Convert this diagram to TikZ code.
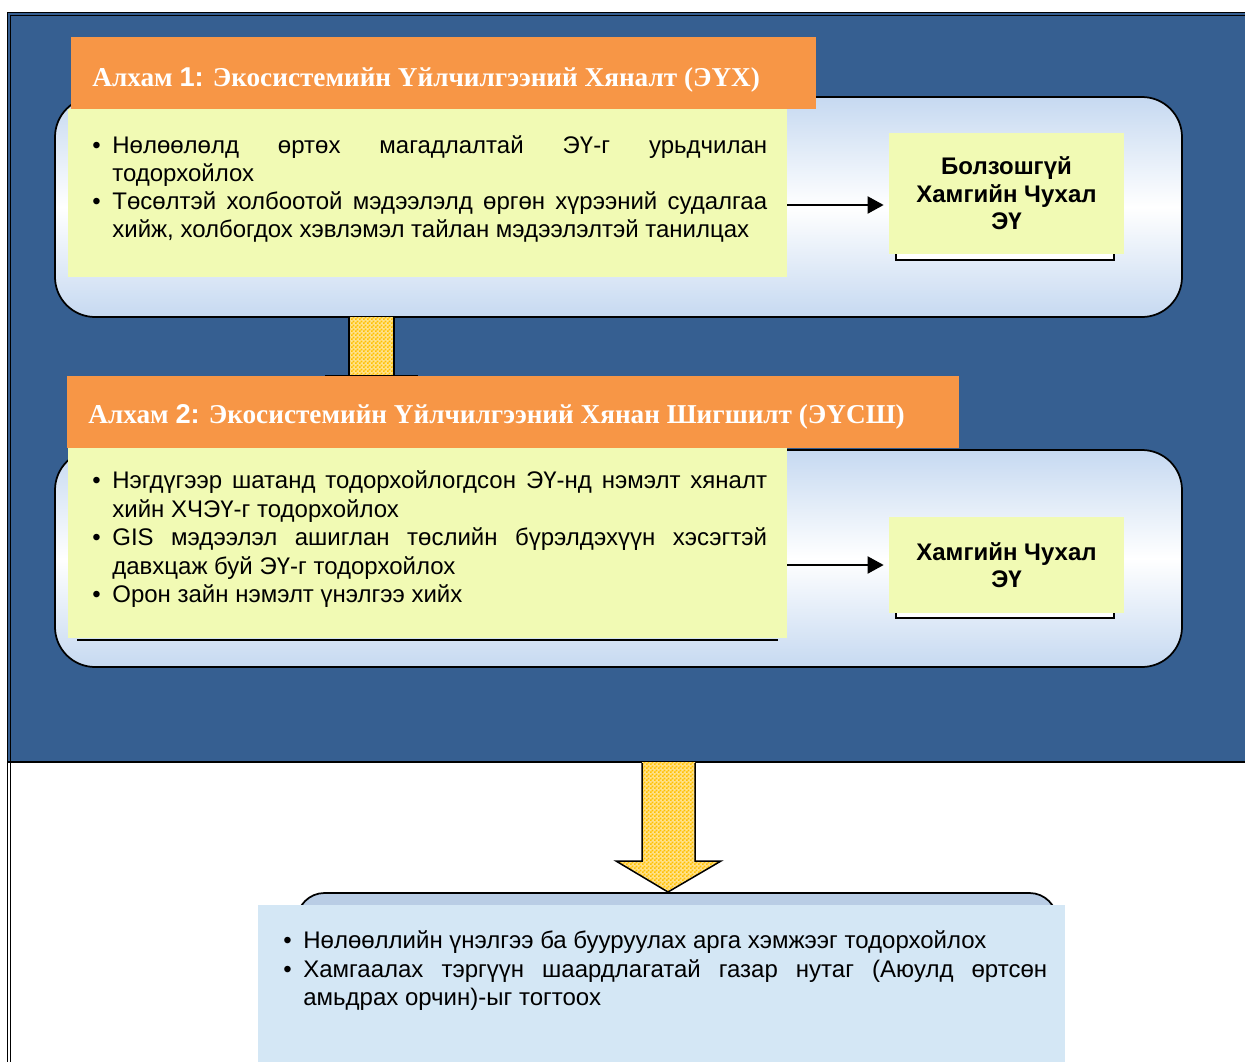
\documentclass[tikz,border=0pt]{standalone}
\usepackage{fontspec}
\setmainfont{Liberation Sans}
\newfontfamily\hdrf{Liberation Serif}
\usetikzlibrary{arrows.meta,patterns,fit}
\definecolor{panelblue}{RGB}{54,95,145}
\definecolor{hdrorange}{RGB}{247,150,70}
\definecolor{yel}{RGB}{241,250,180}
\definecolor{lb}{RGB}{198,217,241}
\definecolor{botbox}{RGB}{185,205,229}
\definecolor{botfill}{RGB}{212,231,245}
\definecolor{checkc}{RGB}{255,192,0}
\definecolor{checkbase}{RGB}{255,226,140}
\pgfdeclarepatternformonly{finecheck}{\pgfpointorigin}{\pgfpoint{2.3pt}{2.3pt}}{\pgfpoint{2.3pt}{2.3pt}}{%
  \pgfpathrectangle{\pgfpointorigin}{\pgfpoint{1.15pt}{1.15pt}}%
  \pgfpathrectangle{\pgfpoint{1.15pt}{1.15pt}}{\pgfpoint{1.15pt}{1.15pt}}%
  \pgfusepath{fill}}
\hyphenpenalty=10000
\exhyphenpenalty=10000
\tolerance=10000
\newcommand\bul[1]{\par\hangindent=0.4cm\hangafter=1\noindent\makebox[0.4cm][l]{•}#1\par}
\begin{document}
\begin{tikzpicture}[x=0.02cm,y=-0.02cm,
  rbox/.style={inner sep=0, draw=black, line width=0.035cm, rounded corners=0.8cm,
     top color=lb, bottom color=lb, middle color=white},
  hdrbox/.style={inner sep=0, fill=hdrorange},
  ybox/.style={inner sep=0, fill=yel},
  shadowbox/.style={draw=black, fill=white, line width=0.03cm},
  hdrtext/.style={anchor=base west, inner sep=0, text=white, font=\fontsize{15.5}{18}\selectfont},
  bodytext/.style={anchor=base west, inner sep=0, text width=13.5cm, align=justify,
     font=\fontsize{13.66}{15.94}\selectfont},
  widebody/.style={font=\fontsize{13.66}{16.16}\selectfont},
  boxlabel/.style={inner sep=0, align=center, font=\fontsize{13.66}{15.6}\selectfont\bfseries},
  arr/.style={line width=0.04cm, -{Triangle[length=0.32cm,width=0.34cm]}},
  checkfill/.style={pattern=finecheck, pattern color=checkc}
]
\useasboundingbox (0,0) rectangle (1245,1062);
\fill[white] (0,0) rectangle (1245,1062);
\clip (0,0) rectangle (1245,1062);

% blue panel
\node[fit={(7.5,12.5)(1270,762)}, inner sep=0, fill=panelblue, draw=black, line width=0.025cm] (panel) {};
\draw[line width=0.02cm] (10.5,1270) -- (10.5,15.5) -- (1270,15.5);
\draw[line width=0.025cm] (7.5,762) -- (7.5,1062);

% rounded boxes
\node[rbox, fit={(55,97)(1182,317)}] (rb1) {};
\node[rbox, fit={(55,450)(1182,667)}] (rb2) {};

% small checkered connector
\fill[checkbase] (349,317) rectangle (394,376);
\fill[checkfill] (349,317) rectangle (394,376);
\draw[line width=0.03cm] (349,317) -- (349,376) (394,317) -- (394,376);
\draw[line width=0.03cm] (325,376) -- (418,376);

% headers and yellow boxes
\node[hdrbox, fit={(71,37)(816,109)}] (h1) {};
\node[ybox, fit={(68,109)(787,277)}] (y1) {};
\node[hdrbox, fit={(67,376)(959,448)}] (h2) {};
\draw[line width=0.04cm] (77,640) -- (778,640);
\node[ybox, fit={(68,448)(787,638)}] (y2) {};

% right boxes
\draw[shadowbox] (896,240) rectangle (1114,260);
\node[ybox, fit={(889,133)(1124,254)}] (r1) {};
\draw[shadowbox] (896,600) rectangle (1114,618);
\node[ybox, fit={(889,517)(1124,613)}] (r2) {};

% arrows
\coordinate (a1) at (0,205);
\coordinate (a2) at (0,565);
\draw[arr, shorten >=0.1cm] (y1.east |- a1) -- (r1.west |- a1);
\draw[arr, shorten >=0.1cm] (y2.east |- a2) -- (r2.west |- a2);

% big down arrow
\fill[checkbase] (642,762) -- (642,861) -- (616,861) -- (668,892) -- (721,861) -- (695,861) -- (695,762) -- cycle;
\fill[checkfill] (642,762) -- (642,861) -- (616,861) -- (668,892) -- (721,861) -- (695,861) -- (695,762) -- cycle;
\draw[line width=0.03cm, line join=miter] (642,763) -- (642,861) -- (616,861) -- (668,892) -- (721,861) -- (695,861) -- (695,763);

% bottom box
\draw[fill=botbox, line width=0.035cm, rounded corners=0.55cm] (297,1120) -- (297,893) -- (1057,893) -- (1057,1120);
\node[fit={(258,905)(1065,1062)}, inner sep=0, fill=botfill] (bb) {};

% texts
\node[hdrtext] (h1t) at (92,86) {\hdrf\bfseries Алхам {\normalfont\bfseries 1:} Экосистемийн Үйлчилгээний Хяналт (ЭҮХ)};
\node[hdrtext] (h2t) at (88,423) {\hdrf\bfseries Алхам {\normalfont\bfseries 2:} Экосистемийн Үйлчилгээний Хянан Шигшилт (ЭҮСШ)};

\node[bodytext] (t1) at (92,125.5) {%
\bul{Нөлөөлөлд өртөх магадлалтай ЭҮ-г урьдчилан\linebreak тодорхойлох}%
\bul{Төсөлтэй холбоотой мэдээлэлд өргөн хүрээний судалгаа\linebreak хийж, холбогдох хэвлэмэл тайлан мэдээлэлтэй танилцах}};

\node[bodytext, widebody] (t2) at (92,460.5) {%
\bul{Нэгдүгээр шатанд тодорхойлогдсон ЭҮ-нд нэмэлт хяналт\linebreak хийн ХЧЭҮ-г тодорхойлох}%
\bul{GIS мэдээлэл ашиглан төслийн бүрэлдэхүүн хэсэгтэй\linebreak давхцаж буй ЭҮ-г тодорхойлох}%
\bul{Орон зайн нэмэлт үнэлгээ хийх}};

\node[bodytext, widebody, text width=15.28cm] (t3) at (283,920.5) {%
\bul{Нөлөөллийн үнэлгээ ба бууруулах арга хэмжээг тодорхойлох}%
\bul{Хамгаалах тэргүүн шаардлагатай газар нутаг (Аюулд өртсөн\linebreak амьдрах орчин)-ыг тогтоох}};

\node[boxlabel] (r1t) at (r1.center) {Болзошгүй\\Хамгийн Чухал\\ЭҮ};
\node[boxlabel] (r2t) at (r2.center) {Хамгийн Чухал\\ЭҮ};
\end{tikzpicture}
\end{document}
